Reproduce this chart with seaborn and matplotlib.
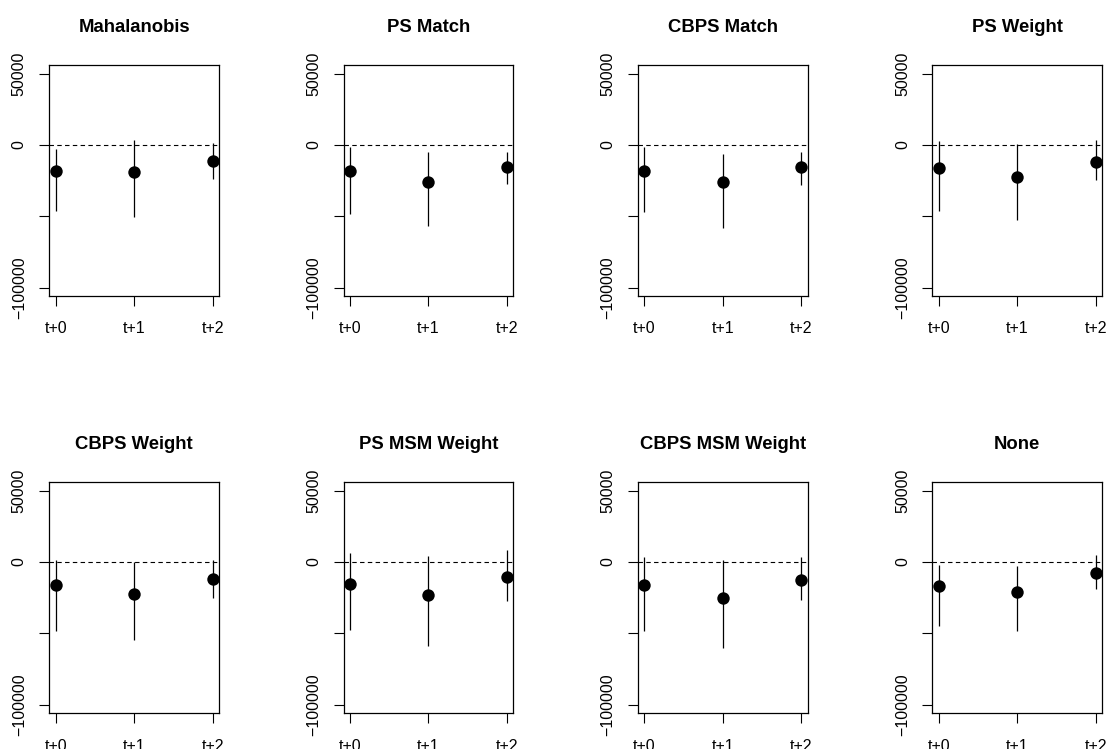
import numpy as np
import pandas as pd
import matplotlib
matplotlib.use("Agg")
import matplotlib.pyplot as plt
import seaborn as sns

sns.set_theme(style="white")
plt.rcParams['font.family'] = ['Liberation Sans', 'DejaVu Sans']
plt.rcParams['text.color'] = 'black'
plt.rcParams['axes.titlecolor'] = 'black'

methods = ["Mahalanobis", "PS Match", "CBPS Match", "PS Weight",
           "CBPS Weight", "PS MSM Weight", "CBPS MSM Weight", "None"]
periods = ["t+0", "t+1", "t+2"]

est = [
    [-18200, -19200, -11400],
    [-18500, -25900, -15200],
    [-18200, -26200, -15400],
    [-16400, -22200, -11700],
    [-16100, -22200, -12100],
    [-15400, -23400, -10700],
    [-16100, -25000, -12600],
    [-16800, -20800, -7900],
]
upper = [
    [-3000, 3500, 1600],
    [-1200, -5100, -4900],
    [-1400, -6100, -5100],
    [3000, 500, 3500],
    [1400, -200, 1400],
    [6100, 4400, 8200],
    [3500, 1200, 3300],
    [-1900, -2600, 4900],
]
lower = [
    [-46300, -50500, -23800],
    [-48100, -56800, -27100],
    [-47000, -57900, -28000],
    [-46300, -52300, -24800],
    [-48600, -54900, -25500],
    [-47900, -58600, -27100],
    [-48600, -60000, -26900],
    [-45100, -48100, -19200],
]

ytick_vals = [-100000, -50000, 0, 50000]
ytick_labels = ["\u2212100000", "", "0", "50000"]

rows = []
for m, e, u, l in zip(methods, est, upper, lower):
    for i, p in enumerate(periods):
        rows.append(dict(method=m, x=i + 1, period=p, est=e[i], hi=u[i], lo=l[i]))
df = pd.DataFrame(rows)

fig, axes = plt.subplots(2, 4, figsize=(11.10, 7.49), dpi=100)
fig.subplots_adjust(left=0.0444, right=0.9928, top=0.9132, bottom=0.0477,
                    wspace=0.736, hspace=0.804)

for ax, m in zip(axes.flat, methods):
    d = df[df.method == m]
    ax.axhline(0, color="black", lw=0.8, ls=(0, (4, 3)), zorder=1)
    ax.vlines(d["x"], d["lo"], d["hi"], color="black", lw=0.9, zorder=2)
    sns.scatterplot(data=d, x="x", y="est", ax=ax, color="black", s=80,
                    edgecolor="black", linewidth=0, zorder=3, legend=False)
    ax.set_xlim(0.92, 3.08)
    ax.set_ylim(-106000, 56000)
    ax.set_xticks([1, 2, 3])
    ax.set_xticklabels(periods)
    ax.set_yticks(ytick_vals)
    ax.set_yticklabels(ytick_labels)
    ax.set_xlabel("")
    ax.set_ylabel("")
    ax.set_title(m, fontsize=13.3, fontweight="bold", pad=24, color="black")
    ax.tick_params(axis="both", which="both", length=7.2, width=0.8,
                   labelsize=11.5, color="black", labelcolor="black",
                   direction="out", bottom=True, left=True)
    ax.tick_params(axis="x", pad=11)
    ax.tick_params(axis="y", pad=9, labelrotation=90)
    for lab in ax.get_yticklabels():
        lab.set_verticalalignment("center")
        lab.set_rotation(90)
    for s in ax.spines.values():
        s.set_color("black")
        s.set_linewidth(0.9)

fig.savefig("out.png", dpi=100, facecolor="white")
